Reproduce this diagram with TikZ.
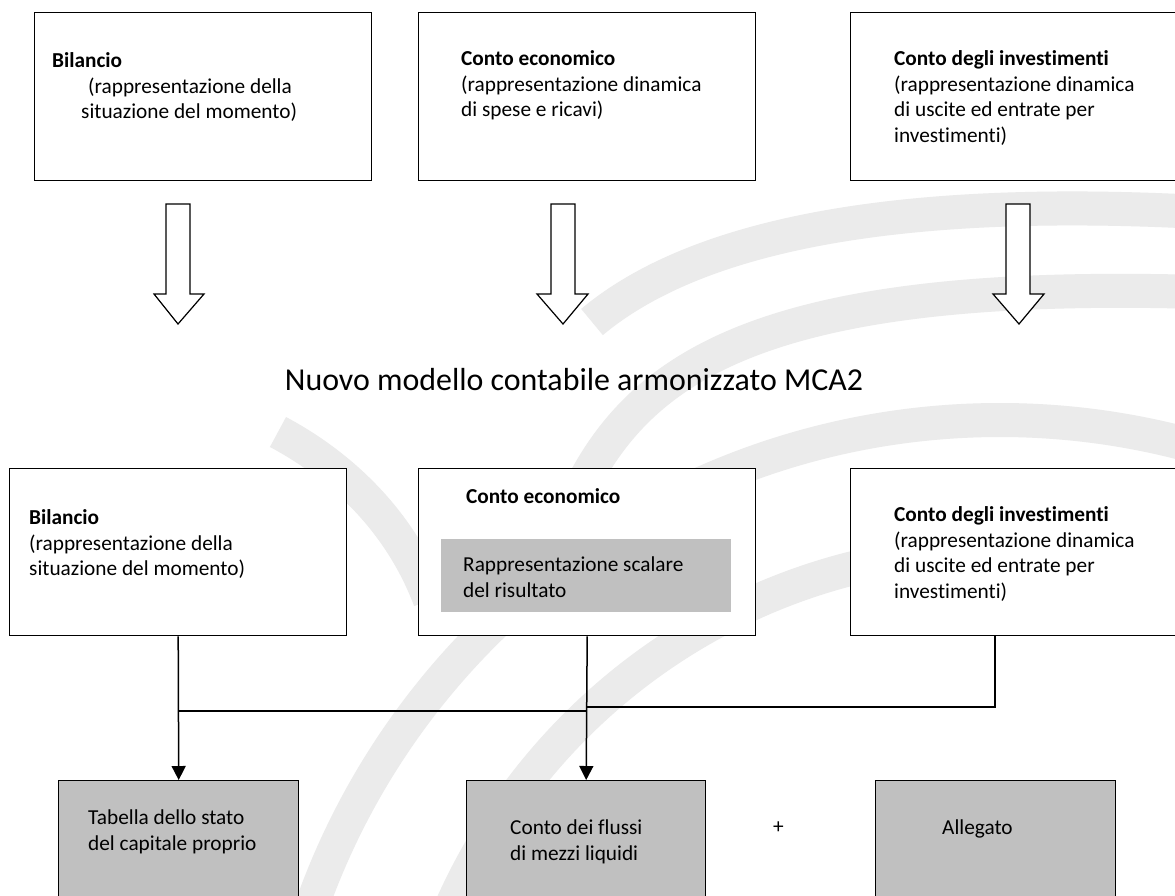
\documentclass[tikz,border=0pt]{standalone}
\usepackage{fontspec}
\setmainfont{Carlito}[Ligatures=NoCommon]
\usetikzlibrary{arrows.meta}
\definecolor{boxgray}{HTML}{C0C0C0}
\definecolor{wmark}{HTML}{EBEBEB}
\begin{document}
\begin{tikzpicture}[x=1pt,y=-1pt,
  frame/.style={draw=black, fill=white, line width=1.4pt, anchor=north west, inner sep=0, minimum width=337, minimum height=168},
  graybox/.style={draw=black, line width=1.4pt, fill=boxgray, anchor=north west, inner sep=0, minimum width=240, minimum height=140},
  txt/.style={anchor=north west, inner sep=0, align=left, font=\fontsize{21.3}{25.5}\selectfont},
  blockarrow/.style={draw=black, line width=1.2pt, fill=white, line join=miter},
  conn/.style={draw=black, line width=1.5pt},
  tip/.style={-{Triangle[length=14pt, width=14pt]}},
  band/.style={draw=wmark, line width=34pt}
]
\useasboundingbox (0,0) rectangle (1175,895);
\clip (0,0) rectangle (1175,895);
\fill[white] (0,0) rectangle (1175,895);

% faint background watermark
\draw[band] (592,322) .. controls (690,240) and (880,195) .. (1200,212);
\draw[band] (585,480) .. controls (650,360) and (780,280) .. (1200,292);
\draw[band] (278,432) .. controls (340,465) and (400,520) .. (430,600);
\draw[band] (270,1150) arc[start angle=180, end angle=300, radius=730];
\draw[band] (400,1150) arc[start angle=180, end angle=300, radius=600];

% top row
\node[frame] (b1) at (34,12) {};
\node[frame] (b2) at (418,12) {};
\node[frame, minimum width=340] (b3) at (850,12) {};
\node[txt] (t1) at (52,49.6) {\strut\textbf{Bilancio}\\\hspace*{36pt}(rappresentazione della\\\hspace*{29pt}situazione del momento)};
\node[txt] (t2) at (461,47.6) {\strut\textbf{Conto economico}\\(rappresentazione dinamica\\di spese e ricavi)};
\node[txt] (t3) at (894,47.6) {\strut\textbf{Conto degli investimenti}\\(rappresentazione dinamica\\di uscite ed entrate per\\investimenti)};

% block arrows
\draw[blockarrow] (166,204) -- (190,204) -- (190,294) -- (204,294) -- (178,324) -- (154,294) -- (166,294) -- cycle;
\draw[blockarrow] (551,204) -- (575,204) -- (575,294) -- (588,294) -- (563,324) -- (537,294) -- (551,294) -- cycle;
\draw[blockarrow] (1006,204) -- (1030,204) -- (1030,294) -- (1044,294) -- (1019,324) -- (993,294) -- (1006,294) -- cycle;

% title
\node[font=\fontsize{31.9}{38}\selectfont, inner sep=0] (title) at (574,380) {Nuovo modello contabile armonizzato MCA2};

% middle row
\node[frame, minimum height=167] (m1) at (9,468) {};
\node[frame, minimum height=167] (m2) at (418,468) {};
\node[frame, minimum height=167, minimum width=340] (m3) at (850,468) {};
\node[fill=boxgray, anchor=north west, inner sep=0, minimum width=290, minimum height=73] (res) at (441,539) {};
\node[txt] (t4) at (29,506.6) {\strut\textbf{Bilancio}\\(rappresentazione della\\situazione del momento)};
\node[txt] (t5) at (466,485.6) {\strut\textbf{Conto economico}};
\node[txt] (t5b) at (463,553.6) {\strut Rappresentazione scalare\\del risultato};
\node[txt] (t6) at (894,503.6) {\strut\textbf{Conto degli investimenti}\\(rappresentazione dinamica\\di uscite ed entrate per\\investimenti)};

% bottom row
\node[graybox] (n1) at (58,780) {};
\node[graybox, minimum width=239] (n2) at (466,780) {};
\node[graybox] (n3) at (875,780) {};
\node[txt] (t7) at (88,806.6) {\strut Tabella dello stato\\del capitale proprio};
\node[txt] (t8) at (510,816.6) {\strut Conto dei flussi\\di mezzi liquidi};
\node[txt] (t9) at (942,816.6) {\strut Allegato};
\node[fill=white, minimum width=51, minimum height=48, inner sep=0, font=\fontsize{21.3}{25.5}\selectfont] (plus) at (778.5,828) {+};

% connectors
\coordinate (j1) at (178,711);
\coordinate (j2) at (586,711);
\coordinate (k1) at (995,635);
\coordinate (k2) at (995,707);
\coordinate (k3) at (586,707);
\draw[conn, tip] (m1.south) -- (n1.north);
\draw[conn, tip] (m2.south) -- (n2.north);
\draw[conn] (j1) -- (j2);
\draw[conn] (k1) -- (k2) -- (k3);
\end{tikzpicture}
\end{document}
